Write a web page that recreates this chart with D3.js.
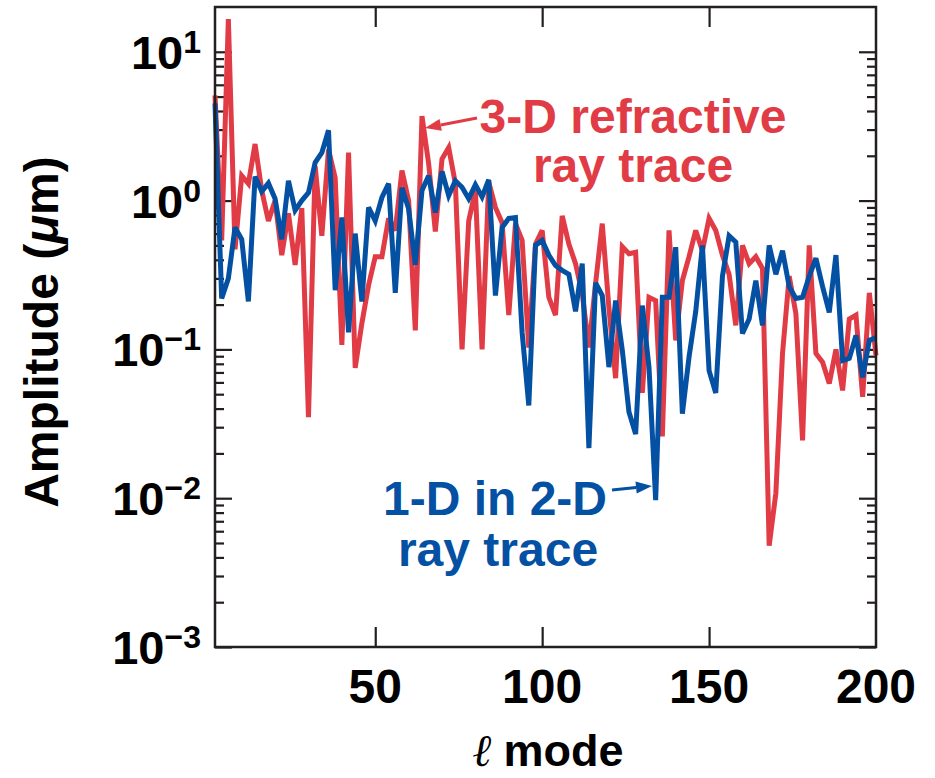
<!DOCTYPE html>
<html>
<head>
<meta charset="utf-8">
<script src="https://cdn.jsdelivr.net/npm/d3@7/dist/d3.min.js"></script>
<style>
  html, body { margin: 0; padding: 0; background: #fff; }
  svg { display: block; font-family: "Liberation Sans", Arial, Helvetica, sans-serif; font-weight: bold; }
</style>
</head>
<body>
<svg id="chart" width="935" height="778"></svg>
<script>
// Mode numbers (even l modes)
const modes = d3.range(2, 201, 2);

// 3-D refractive ray trace amplitudes (um)
const refractive3D = [
  5.1, 0.54, 16.6, 0.47, 1.47, 1.30, 2.4, 1.17, 0.73, 1.0,
  0.43, 0.82, 0.37, 0.89, 0.035, 1.7, 0.58, 2.2, 1.42, 0.107,
  2.1, 0.075, 0.15, 0.27, 0.42, 0.42, 0.76, 0.63, 1.59, 1.0,
  0.134, 3.7, 1.77, 0.62, 1.9, 2.27, 1.30, 0.10, 0.73, 1.17,
  0.10, 1.33, 0.90, 0.71, 0.17, 0.70, 0.54, 0.103, 0.51, 0.63,
  0.224, 0.17, 0.79, 0.51, 0.377, 0.237, 0.103, 0.277, 0.70, 0.19,
  0.064, 0.49, 0.44, 0.45, 0.051, 0.224, 0.213, 0.026, 0.63, 0.115,
  0.29, 0.42, 0.63, 0.46, 0.76, 0.63, 0.43, 0.32, 0.145, 0.50,
  0.377, 0.42, 0.35, 0.0048, 0.0108, 0.094, 0.31, 0.174, 0.0245, 0.50,
  0.094, 0.082, 0.059, 0.10, 0.053, 0.16, 0.17, 0.048, 0.24, 0.091
];

// 1-D in 2-D ray trace amplitudes (um)
const oneDin2D = [
  4.5, 0.22, 0.30, 0.66, 0.55, 0.21, 1.45, 1.15, 1.31, 1.03,
  0.55, 1.36, 0.86, 1.0, 1.13, 1.8, 2.1, 2.97, 0.25, 0.77,
  0.13, 0.60, 0.21, 0.90, 0.73, 1.05, 1.30, 0.24, 1.22, 0.88,
  0.37, 1.17, 1.47, 0.83, 1.57, 1.08, 1.36, 1.23, 1.03, 1.28,
  1.06, 1.38, 0.23, 0.66, 0.76, 0.77, 0.13, 0.042, 0.50, 0.54,
  0.43, 0.366, 0.34, 0.32, 0.18, 0.377, 0.0217, 0.28, 0.23, 0.076,
  0.213, 0.099, 0.038, 0.027, 0.197, 0.076, 0.0097, 0.224, 0.224, 0.486,
  0.037, 0.089, 0.18, 0.50, 0.072, 0.051, 0.31, 0.58, 0.525, 0.128,
  0.16, 0.29, 0.145, 0.50, 0.32, 0.46, 0.264, 0.22, 0.224, 0.31,
  0.41, 0.264, 0.177, 0.43, 0.084, 0.087, 0.124, 0.065, 0.115, 0.12
];

// Axis ticks and labels
const xTickValues = [50, 100, 150];
const xLabelValues = [50, 100, 150, 200];
const yExponents = [1, 0, -1, -2, -3];

const RED = "#e13b45";
const BLUE = "#0450a3";
const INK = "#231f20";

const svg = d3.select("#chart");
const margin = { left: 215, right: 876, top: 7, bottom: 647 };

const x = d3.scaleLinear().domain([2, 200]).range([margin.left, margin.right]);
const y = d3.scaleLog().domain([1e-3, 20]).range([margin.bottom, margin.top]);

// Log ticks: majors at each decade, minors at 2..9 within each decade
const majors = yExponents.map(e => Math.pow(10, e));
const minors = [];
for (let e = -3; e <= 1; e++) {
  for (let k = 2; k <= 9; k++) {
    const v = k * Math.pow(10, e);
    if (v < 20) minors.push(v);
  }
}

function styleAxis(g) {
  g.select(".domain").remove();
  g.selectAll(".tick line").attr("stroke", INK).attr("stroke-width", 2.2);
  g.selectAll(".tick text").remove();
}

// Left axis ticks pointing into the plot
svg.append("g").attr("transform", `translate(${margin.left},0)`)
  .call(d3.axisRight(y).tickValues(majors).tickSize(17)).call(styleAxis);
svg.append("g").attr("transform", `translate(${margin.left},0)`)
  .call(d3.axisRight(y).tickValues(minors).tickSize(9)).call(styleAxis);
// Right axis ticks pointing into the plot
svg.append("g").attr("transform", `translate(${margin.right},0)`)
  .call(d3.axisLeft(y).tickValues(majors).tickSize(17)).call(styleAxis);
svg.append("g").attr("transform", `translate(${margin.right},0)`)
  .call(d3.axisLeft(y).tickValues(minors).tickSize(9)).call(styleAxis);
// Bottom and top ticks pointing into the plot
svg.append("g").attr("transform", `translate(0,${margin.bottom})`)
  .call(d3.axisTop(x).tickValues(xTickValues).tickSize(20)).call(styleAxis);
svg.append("g").attr("transform", `translate(0,${margin.top})`)
  .call(d3.axisBottom(x).tickValues(xTickValues).tickSize(20)).call(styleAxis);

// Data lines
const line = d3.line()
  .x((d, i) => x(modes[i]))
  .y(d => y(d));

svg.append("path")
  .datum(refractive3D)
  .attr("fill", "none")
  .attr("stroke", RED)
  .attr("stroke-width", 5)
  .attr("stroke-linejoin", "miter")
  .attr("stroke-miterlimit", 3)
  .attr("d", line);

svg.append("path")
  .datum(oneDin2D)
  .attr("fill", "none")
  .attr("stroke", BLUE)
  .attr("stroke-width", 5)
  .attr("stroke-linejoin", "miter")
  .attr("stroke-miterlimit", 3)
  .attr("d", line);

// Plot frame
svg.append("rect")
  .attr("x", margin.left).attr("y", margin.top)
  .attr("width", margin.right - margin.left)
  .attr("height", margin.bottom - margin.top)
  .attr("fill", "none")
  .attr("stroke", INK)
  .attr("stroke-width", 2.5);

// Y tick labels: 10 with superscript exponent
yExponents.forEach(e => {
  const t = svg.append("text")
    .attr("x", 201)
    .attr("y", y(Math.pow(10, e)) + 17)
    .attr("text-anchor", "end")
    .attr("fill", "#000")
    .style("font-size", "47px");
  t.append("tspan").text("10");
  t.append("tspan")
    .attr("dy", -16)
    .style("font-size", "32px")
    .text(e < 0 ? "\u2212" + Math.abs(e) : String(e));
});

// X tick labels
svg.selectAll(".xlabel")
  .data(xLabelValues)
  .join("text")
  .attr("class", "xlabel")
  .attr("x", d => x(d))
  .attr("y", 703)
  .attr("text-anchor", "middle")
  .attr("fill", "#000")
  .style("font-size", "48px")
  .text(d => d);

// Axis titles
const xTitle = svg.append("text")
  .attr("x", 548).attr("y", 766)
  .attr("text-anchor", "middle")
  .attr("fill", "#000")
  .style("font-size", "45px");
xTitle.append("tspan").style("font-family", "'DejaVu Serif', serif").style("font-style", "italic").style("font-weight", "normal").text("\u2113");
xTitle.append("tspan").text(" mode");

const yTitle = svg.append("text")
  .attr("transform", "translate(58,332) rotate(-90)")
  .attr("text-anchor", "middle")
  .attr("fill", "#000")
  .style("font-size", "48px");
yTitle.append("tspan").text("Amplitude (");
yTitle.append("tspan").style("font-style", "italic").text("\u03bc");
yTitle.append("tspan").text("m)");

// Series annotations
svg.append("text").attr("x", 633).attr("y", 133).attr("text-anchor", "middle")
  .attr("fill", RED).style("font-size", "48px").text("3-D refractive");
svg.append("text").attr("x", 633).attr("y", 182).attr("text-anchor", "middle")
  .attr("fill", RED).style("font-size", "48px").text("ray trace");
svg.append("text").attr("x", 495).attr("y", 515).attr("text-anchor", "middle")
  .attr("fill", BLUE).style("font-size", "48px").text("1-D in 2-D");
svg.append("text").attr("x", 498).attr("y", 566).attr("text-anchor", "middle")
  .attr("fill", BLUE).style("font-size", "48px").text("ray trace");

// Arrows from labels toward the series
function arrow(x1, y1, x2, y2, color) {
  const ang = Math.atan2(y2 - y1, x2 - x1);
  const len = 16, half = 6;
  const bx = x2 - len * Math.cos(ang), by = y2 - len * Math.sin(ang);
  svg.append("line")
    .attr("x1", x1).attr("y1", y1).attr("x2", bx).attr("y2", by)
    .attr("stroke", color).attr("stroke-width", 3);
  const p1 = [bx + half * Math.sin(ang), by - half * Math.cos(ang)];
  const p2 = [bx - half * Math.sin(ang), by + half * Math.cos(ang)];
  svg.append("path")
    .attr("d", `M${x2},${y2}L${p1[0]},${p1[1]}L${p2[0]},${p2[1]}Z`)
    .attr("fill", color);
}
arrow(477, 118, 425, 128, RED);
arrow(612, 490, 652, 486, BLUE);
</script>
</body>
</html>
